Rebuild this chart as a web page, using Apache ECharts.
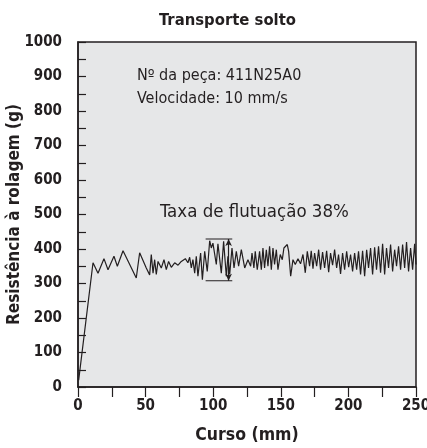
<!DOCTYPE html>
<html>
<head>
<meta charset="utf-8">
<script src="https://cdn.jsdelivr.net/npm/echarts@6/dist/echarts.min.js"></script>
<style>html,body{margin:0;padding:0;background:#fff;}#c{width:427px;height:448px;}</style>
</head>
<body>
<div id="c"></div>
<script>
const titleText = 'Transporte solto';
const xAxisName = 'Curso (mm)';
const yAxisName = 'Resistência à rolagem (g)';
const noteLine1 = 'Nº da peça: 411N25A0';
const noteLine2 = 'Velocidade: 10 mm/s';
const noteRate = 'Taxa de flutuação 38%';

const cursoMm = [0.5, 11.1, 14.8, 19.2, 22.2, 26.6, 29.1, 33.3, 43.1, 45.6, 50.5, 53.0, 54.2, 55.5, 56.7, 57.9, 59.2, 61.6, 63.6, 65.3, 67.0, 69.0, 71.5, 74.0, 76.4, 79.4, 81.3, 82.6, 83.8, 85.0, 86.3, 87.5, 88.7, 90.7, 92.0, 93.7, 95.6, 97.4, 98.6, 99.8, 102.3, 103.5, 106.0, 107.7, 109.7, 110.9, 112.2, 113.9, 115.4, 117.1, 118.8, 120.8, 123.3, 125.7,
  127.7, 128.7, 130.1, 131.1, 132.6, 134.3, 135.6, 136.8, 138.0, 139.3, 140.5, 141.7, 143.0, 144.2, 145.4, 146.7, 147.9, 149.6, 151.1, 152.3, 153.6, 154.8, 155.8, 157.3, 159.0, 160.7, 162.7, 164.6, 166.4, 168.1, 169.6, 171.3, 172.5, 173.8, 175.0, 176.5, 178.0, 179.4, 180.9, 182.4, 183.9, 185.4, 186.8, 188.3, 189.8, 191.3, 192.7, 194.2, 195.7, 197.2, 198.7, 200.2, 201.6, 203.1, 204.6, 206.1, 207.5, 209.0, 210.5, 212.0, 213.5, 214.9, 216.4, 217.9, 219.4, 220.8, 222.3, 223.8, 225.3, 226.8, 228.2, 229.7, 231.2, 232.7, 234.2, 235.6, 237.1, 238.6, 240.1, 241.6, 243.0, 244.5, 246.0, 247.5, 249.0, 250];
const resistenciaG = [20, 360, 330, 372, 340, 379, 350, 395, 316, 389, 345, 325, 384, 330, 369, 326, 364, 345, 369, 340, 364, 347, 360, 353, 364, 372, 360, 376, 345, 369, 330, 379, 321, 388, 311, 393, 335, 424, 403, 417, 355, 415, 330, 422, 321, 379, 326, 403, 345, 393, 350, 398, 345, 369,
  350, 388, 345, 393, 340, 393, 340, 403, 345, 398, 350, 408, 340, 403, 355, 398, 340, 384, 369, 403, 408, 413, 393, 321, 369, 355, 372, 357, 384, 331, 393, 350, 395, 343, 388, 350, 398, 340, 391, 345, 395, 333, 388, 353, 398, 345, 384, 328, 388, 340, 393, 347, 384, 335, 388, 340, 393, 326, 395, 321, 398, 345, 403, 326, 405, 340, 408, 331, 415, 326, 403, 345, 413, 335, 398, 350, 408, 340, 413, 345, 420, 335, 403, 340, 415, 355];

const bandX = [94.4, 114.1];
const bandTop = 429;
const bandBottom = 308;
const arrowX = 111.4;

const font = "'Liberation Sans Narrow', 'DejaVu Sans Condensed', 'Liberation Sans', sans-serif";
const ink = '#231f20';

const lineData = cursoMm.map((x, i) => [x, resistenciaG[i]]);

const chart = echarts.init(document.getElementById('c'), null, {renderer: 'canvas'});
chart.setOption({
  animation: false,
  backgroundColor: '#ffffff',
  title: {
    text: titleText, left: 154, top: 7,
    textStyle: {fontFamily: font, fontWeight: 'bold', fontSize: 16.5, color: ink}
  },
  grid: {
    left: 78, right: 11, top: 42, bottom: 61, show: true, containLabel: false,
    outerBoundsMode: 'none',
    backgroundColor: '#e6e7e8', borderColor: ink, borderWidth: 1.5
  },
  xAxis: {
    type: 'value', min: 0, max: 250, interval: 50,
    name: xAxisName, nameLocation: 'middle', nameGap: 39, nameMoveOverlap: false,
    nameTextStyle: {fontFamily: font, fontWeight: 'bold', fontSize: 17.5, color: ink},
    axisLine: {show: true, lineStyle: {color: ink, width: 1.5}},
    axisTick: {show: true, inside: false, length: 10, lineStyle: {color: ink, width: 1.2}},
    minorTick: {show: true, splitNumber: 2, length: 10, lineStyle: {color: ink, width: 1.2}},
    axisLabel: {fontFamily: font, fontWeight: 'bold', fontSize: 15, color: ink, margin: 12,
      formatter: v => String(v)},
    splitLine: {show: false}
  },
  yAxis: {
    type: 'value', min: 0, max: 1000, interval: 100,
    name: yAxisName, nameLocation: 'middle', nameGap: 55, nameMoveOverlap: false,
    nameTextStyle: {fontFamily: font, fontWeight: 'bold', fontSize: 17, color: ink},
    axisLine: {show: true, lineStyle: {color: ink, width: 1.5}},
    axisTick: {show: true, inside: true, length: 8, lineStyle: {color: ink, width: 1.2}},
    minorTick: {show: true, splitNumber: 2, length: 8, lineStyle: {color: ink, width: 1.2}},
    axisLabel: {fontFamily: font, fontWeight: 'bold', fontSize: 15, color: ink, margin: 16,
      formatter: v => String(v)},
    splitLine: {show: false}
  },
  series: [
    {
      type: 'line', data: lineData, showSymbol: false, symbol: 'none',
      lineStyle: {color: ink, width: 1.2}, z: 3
    },
    {
      type: 'line', data: [[bandX[0], bandTop], [bandX[1], bandTop]], symbol: 'none',
      lineStyle: {color: ink, width: 1.2}
    },
    {
      type: 'line', data: [[bandX[0], bandBottom], [bandX[1], bandBottom]], symbol: 'none',
      lineStyle: {color: ink, width: 1.2},
      markLine: {
        silent: true, symbol: ['arrow', 'arrow'], symbolSize: [5, 7],
        lineStyle: {color: ink, width: 1.2, type: 'solid'}, label: {show: false},
        data: [[{coord: [arrowX, bandTop]}, {coord: [arrowX, bandBottom]}]]
      }
    }
  ],
  graphic: [
    {type: 'text', left: 137, top: 68, style: {text: noteLine1, font: '16px ' + font, fill: ink}},
    {type: 'text', left: 137, top: 91, style: {text: noteLine2, font: '16px ' + font, fill: ink}},
    {type: 'text', left: 160, top: 203, style: {text: noteRate, font: '18.5px ' + font, fill: ink}}
  ]
});
</script>
</body>
</html>
